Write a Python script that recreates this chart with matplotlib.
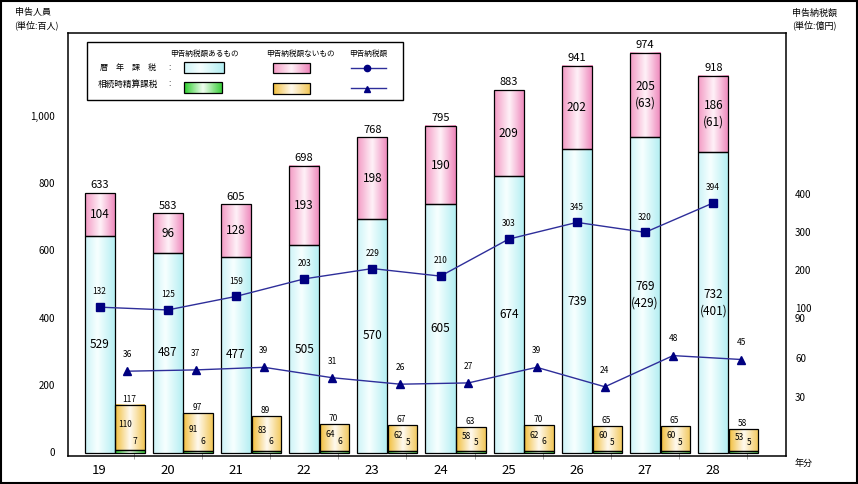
import numpy as np
import matplotlib
matplotlib.use('Agg')
import matplotlib.pyplot as plt
from matplotlib.colors import LinearSegmentedColormap
from matplotlib.patches import Rectangle
from matplotlib.ticker import FuncFormatter

plt.rcParams['font.family'] = ['Noto Sans CJK JP', 'DejaVu Sans']

# data (申告人員: 百人, 申告納税額: 億円)
years = ['19', '20', '21', '22', '23', '24', '25', '26', '27', '28']
reki_yes = [529, 487, 477, 505, 570, 605, 674, 739, 769, 732]      # 暦年課税 申告納税額あるもの
reki_yes_paren = [None] * 8 + [429, 401]
reki_no = [104, 96, 128, 193, 198, 190, 209, 202, 205, 186]         # 暦年課税 申告納税額ないもの
reki_no_paren = [None] * 8 + [63, 61]
reki_total = [633, 583, 605, 698, 768, 795, 883, 941, 974, 918]
sz_yes = [7, 6, 6, 6, 5, 5, 6, 5, 5, 5]                             # 相続時精算課税 あるもの
sz_no = [110, 91, 83, 64, 62, 58, 62, 60, 60, 53]                   # 相続時精算課税 ないもの
sz_total = [117, 97, 89, 70, 67, 63, 70, 65, 65, 58]
tax_reki = [132, 125, 159, 203, 229, 210, 303, 345, 320, 394]       # 申告納税額 暦年課税
tax_sz = [36, 37, 39, 31, 26, 27, 39, 24, 48, 45]                   # 申告納税額 相続時精算課税

W, H = 858, 484
fig = plt.figure(figsize=(W / 100, H / 100), dpi=100)


def px_rect(x0, y0, x1, y1):
    return [x0 / W, 1 - y1 / H, (x1 - x0) / W, (y1 - y0) / H]


main = px_rect(68, 33, 786, 456)
PLOT_H = 423

cyan = LinearSegmentedColormap.from_list('c', [(0, '#cdf3f7'), (0.4, '#f7ffff'), (1, '#b2eef2')])
pink = LinearSegmentedColormap.from_list('p', [(0, '#f39ac4'), (0.5, '#fff2f8'), (1, '#ee86bb')])
green = LinearSegmentedColormap.from_list('g', [(0, '#2ccc2c'), (0.5, '#f2fff2'), (1, '#3acd3a')])
yellow = LinearSegmentedColormap.from_list('y', [(0, '#f1be3c'), (0.5, '#fffaf0'), (1, '#f2c758')])
GRAD = np.linspace(0, 1, 64).reshape(1, -1)
NAVY = '#000080'
LINE = '#2e2e9a'


def paint(a, x, y, w, h, cmap, z=2):
    a.imshow(GRAD, cmap=cmap, extent=(x, x + w, y, y + h), aspect='auto',
             interpolation='bicubic', zorder=z)


# bars
ax = fig.add_axes(main)
x = np.arange(len(years))
xs = x + 0.445
BAR_PX = 0.411   # pixels per 百人
b1 = ax.bar(x, reki_yes, 0.44, fill=False, edgecolor='black', lw=0.9, zorder=3)
b2 = ax.bar(x, reki_no, 0.44, bottom=reki_yes, fill=False, edgecolor='black', lw=0.9, zorder=3)
b3 = ax.bar(xs, sz_yes, 0.43, fill=False, edgecolor='black', lw=0.9, zorder=3)
b4 = ax.bar(xs, sz_no, 0.43, bottom=sz_yes, fill=False, edgecolor='black', lw=0.9, zorder=3)
for cont, cm in [(b1, cyan), (b2, pink), (b3, green), (b4, yellow)]:
    for p in cont:
        paint(ax, p.get_x(), p.get_y(), p.get_width(), p.get_height(), cm)

for i in range(len(years)):
    top = reki_yes[i] + reki_no[i]
    ax.annotate(str(reki_total[i]), (x[i], top), xytext=(0, 2), textcoords='offset points',
                ha='center', va='bottom', fontsize=8, zorder=5)
    s = str(reki_no[i]) if reki_no_paren[i] is None else f'{reki_no[i]}\n({reki_no_paren[i]})'
    ax.text(x[i], reki_yes[i] + reki_no[i] / 2, s, ha='center', va='center',
            fontsize=8.5, linespacing=1.3, zorder=5)
    s = str(reki_yes[i]) if reki_yes_paren[i] is None else f'{reki_yes[i]}\n({reki_yes_paren[i]})'
    ax.text(x[i], reki_yes[i] / 2, s, ha='center', va='center',
            fontsize=8.5, linespacing=1.3, zorder=5)
    stop = sz_yes[i] + sz_no[i]
    ax.annotate(str(sz_total[i]), (x[i] + 0.43, stop), xytext=(0, 1), textcoords='offset points',
                ha='center', va='bottom', fontsize=6, zorder=5)
    ax.annotate(str(sz_no[i]), (x[i] + 0.38, sz_yes[i] + sz_no[i] / 2), xytext=(0, 2),
                textcoords='offset points', ha='center', va='center', fontsize=6, zorder=5)
    ax.annotate(str(sz_yes[i]), (x[i] + 0.52, sz_yes[i]), xytext=(0, 3),
                textcoords='offset points', ha='center', va='bottom', fontsize=6,
                style='italic', zorder=5)

ax.set_xlim(-0.462, 10.066)
ax.set_ylim(-3 / BAR_PX, (PLOT_H - 3) / BAR_PX)
ax.set_xticks(x)
ax.set_xticklabels(years, fontsize=9.5)
ax.set_xticks(np.arange(-0.5, 10.5, 1), minor=True)
ax.tick_params(axis='x', which='major', length=0, pad=6)
ax.tick_params(axis='x', which='minor', length=4, color='#909090', direction='inout')
ax.set_yticks([])
for s in ax.spines.values():
    s.set_linewidth(1.1)


def overlay():
    a = fig.add_axes(main, sharex=ax)
    a.patch.set_visible(False)
    for s in a.spines.values():
        s.set_visible(False)
    a.tick_params(axis='x', which='both', bottom=False, labelbottom=False)
    return a


# left scale labels (申告人員)
axl = overlay()
axl.set_ylim((452 - 456) / 0.336, (452 - 33) / 0.336)
axl.set_yticks([0, 200, 400, 600, 800, 1000])
axl.yaxis.set_major_formatter(FuncFormatter(lambda v, p: f'{int(v):,}'))
axl.tick_params(axis='y', length=0, pad=9.5, labelsize=7)

# right scale labels (申告納税額), broken scale
kv = np.array([-200, 0, 90, 100, 400, 2000.])
kh = np.array([19.5 - 200 * 1.317, 19.5, 138, 148, 262, 262 + 1600 * 0.38])


def fwd(v):
    return np.interp(v, kv, kh)


def inv(h):
    return np.interp(h, kh, kv)


axr = overlay()
axr.set_yscale('function', functions=(fwd, inv))
axr.set_ylim(inv(0), inv(PLOT_H))
axr.yaxis.tick_right()
axr.set_yticks([30, 60, 90, 100, 200, 300, 400])
axr.yaxis.set_major_formatter(FuncFormatter(lambda v, p: f'{int(round(v))}'))
axr.yaxis.set_minor_locator(matplotlib.ticker.NullLocator())
axr.tick_params(axis='y', length=0, pad=6.5, labelsize=7)

# lines
ax_up = overlay()
ax_up.set_ylim(-96.3 / 0.398, (PLOT_H - 96.3) / 0.398)
ax_up.set_yticks([])
ax_up.plot(x, tax_reki, color=LINE, lw=1, marker='s', ms=5.5, mfc=NAVY, mec=NAVY, zorder=4)
for i, v in enumerate(tax_reki):
    ax_up.annotate(str(v), (x[i], v), xytext=(0, 11), textcoords='offset points',
                   ha='center', va='center', fontsize=6)

ax_lo = overlay()
ax_lo.set_ylim(-38 / 1.3, (PLOT_H - 38) / 1.3)
ax_lo.set_yticks([])
ax_lo.plot(x + 0.41, tax_sz, color=LINE, lw=1, marker='^', ms=5.5, mfc=NAVY, mec=NAVY, zorder=4)
for i, v in enumerate(tax_sz):
    ax_lo.annotate(str(v), (x[i] + 0.41, v), xytext=(0, 12), textcoords='offset points',
                   ha='center', va='center', fontsize=6)
ax.set_xlim(-0.462, 10.066)

# canvas in pixel coords: titles, legend, frame
cv = fig.add_axes([0, 0, 1, 1])
cv.set_xlim(0, W)
cv.set_ylim(H, 0)
cv.axis('off')
cv.patch.set_visible(False)
cv.text(15, 13, '申告人員', fontsize=6.5, va='center')
cv.text(14, 25, '(単位:百人)', fontsize=6.5, va='center')
cv.text(792, 13, '申告納税額', fontsize=6.5, va='center')
cv.text(792, 25, '(単位:億円)', fontsize=6.5, va='center')
cv.text(795, 463, '年分', fontsize=6.5, va='center')
cv.add_patch(Rectangle((1, 1), W - 2, H - 2, fill=False, edgecolor='black', lw=1.5))

cv.add_patch(Rectangle((87, 42), 316, 58, facecolor='white', edgecolor='black', lw=1))
cv.text(204, 54, '申告納税額あるもの', fontsize=5.5, ha='center', va='center')
cv.text(300, 54, '申告納税額ないもの', fontsize=5.5, ha='center', va='center')
cv.text(368, 54, '申告納税額', fontsize=5.5, ha='center', va='center')
cv.text(128, 67, '暦　年　課　税', fontsize=5.8, ha='center', va='center')
cv.text(128, 84, '相続時精算課税', fontsize=6.2, ha='center', va='center')
cv.text(170, 67, ':', fontsize=6, ha='center', va='center')
cv.text(170, 84, ':', fontsize=6, ha='center', va='center')
for (x0, y0, x1, y1), cm in [((184, 62, 224, 73), cyan), ((273, 63, 310, 73), pink),
                             ((184, 82, 222, 93), green), ((273, 83, 310, 94), yellow)]:
    paint(cv, x0, y1, x1 - x0, y0 - y1, cm, z=3)
    cv.add_patch(Rectangle((x0, y0), x1 - x0, y1 - y0, fill=False, edgecolor='black', lw=0.9, zorder=4))
cv.plot([351, 386], [68, 68], color=LINE, lw=1)
cv.plot([367], [68], marker='o', ms=4.5, color=NAVY)
cv.plot([351, 386], [88, 88], color=LINE, lw=1)
cv.plot([367], [89], marker='^', ms=5, color=NAVY)
cv.set_xlim(0, W)
cv.set_ylim(H, 0)

fig.savefig('out.png', dpi=100)
